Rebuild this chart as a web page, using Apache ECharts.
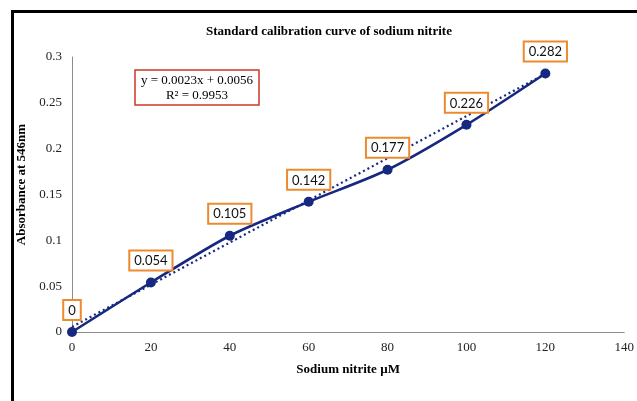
<!DOCTYPE html>
<html>
<head>
<meta charset="utf-8">
<script src="https://cdn.jsdelivr.net/npm/echarts@6/dist/echarts.min.js"></script>
<style>html,body{margin:0;padding:0;background:#fff}#c{width:637px;height:401px}</style>
</head>
<body>
<div id="c"></div>
<script>
var concentration = [0, 20, 40, 60, 80, 100, 120];
var absorbance = [0, 0.054, 0.105, 0.142, 0.177, 0.226, 0.282];
var trendX = [0, 120];
var trendY = [0.0056, 0.2816];
var equationText = 'y = 0.0023x + 0.0056\nR² = 0.9953';

var chart = echarts.init(document.getElementById('c'));
var serif = '"Liberation Serif", "DejaVu Serif", serif';
chart.setOption({
  animation: false,
  backgroundColor: '#fff',
  title: {
    text: 'Standard calibration curve of sodium nitrite',
    left: 201, top: 20,
    textStyle: {fontFamily: serif, fontSize: 13, fontWeight: 'bold', color: '#000'}
  },
  grid: {left: 72, right: 8, top: 57, bottom: 69, containLabel: false},
  xAxis: {
    type: 'value', min: 0, max: 140, interval: 20,
    name: 'Sodium nitrite µM', nameLocation: 'middle', nameGap: 31,
    nameTextStyle: {fontFamily: serif, fontSize: 13, fontWeight: 'bold', color: '#000'},
    axisLine: {lineStyle: {color: '#8c8c8c', width: 1}},
    axisTick: {show: false},
    splitLine: {show: false},
    axisLabel: {fontFamily: serif, fontSize: 13, color: '#222', margin: 9}
  },
  yAxis: {
    type: 'value', min: 0, max: 0.3, interval: 0.05,
    name: 'Absorbance at 546nm', nameLocation: 'middle', nameGap: 36,
    nameTextStyle: {fontFamily: serif, fontSize: 13, fontWeight: 'bold', color: '#000', padding: [0, 0, 0, 20]},
    axisLine: {show: true, lineStyle: {color: '#8c8c8c', width: 1}},
    axisTick: {show: false},
    splitLine: {show: false},
    axisLabel: {fontFamily: serif, fontSize: 13, color: '#222', margin: 10,
      formatter: function (v) { return String(+v.toFixed(2)); }}
  },
  series: [
    {
      type: 'line',
      data: trendX.map(function (x, i) { return [x, trendY[i]]; }),
      symbol: 'none',
      lineStyle: {color: '#16287f', width: 2.2, type: [2, 3]},
      z: 2
    },
    {
      type: 'line',
      data: concentration.map(function (x, i) { return [x, absorbance[i]]; }),
      smooth: 0.25,
      symbol: 'circle', symbolSize: 10,
      itemStyle: {color: '#16287f'},
      lineStyle: {color: '#16287f', width: 2.6},
      label: {
        show: true, position: 'top', distance: 8,
        fontFamily: 'Lato, "Open Sans", sans-serif', fontSize: 13, color: '#111',
        backgroundColor: '#fff', borderColor: '#ee8a2e', borderWidth: 2,
        padding: [3, 4, 2, 4],
        formatter: function (p) { return String(p.value[1]); }
      },
      z: 3
    }
  ],
  graphic: [
    {type: 'rect', shape: {x: 11, y: 10, width: 3, height: 391}, style: {fill: '#000'}},
    {type: 'rect', shape: {x: 11, y: 10, width: 626, height: 3}, style: {fill: '#000'}},
    {type: 'rect', shape: {x: 135, y: 70, width: 124, height: 35},
      style: {fill: '#fff', stroke: '#cc3a28', lineWidth: 1.5}},
    {type: 'text', x: 197, y: 88,
      style: {text: equationText, align: 'center', verticalAlign: 'middle',
        font: '13px ' + serif, fill: '#000', lineHeight: 15}}
  ]
});
</script>
</body>
</html>
